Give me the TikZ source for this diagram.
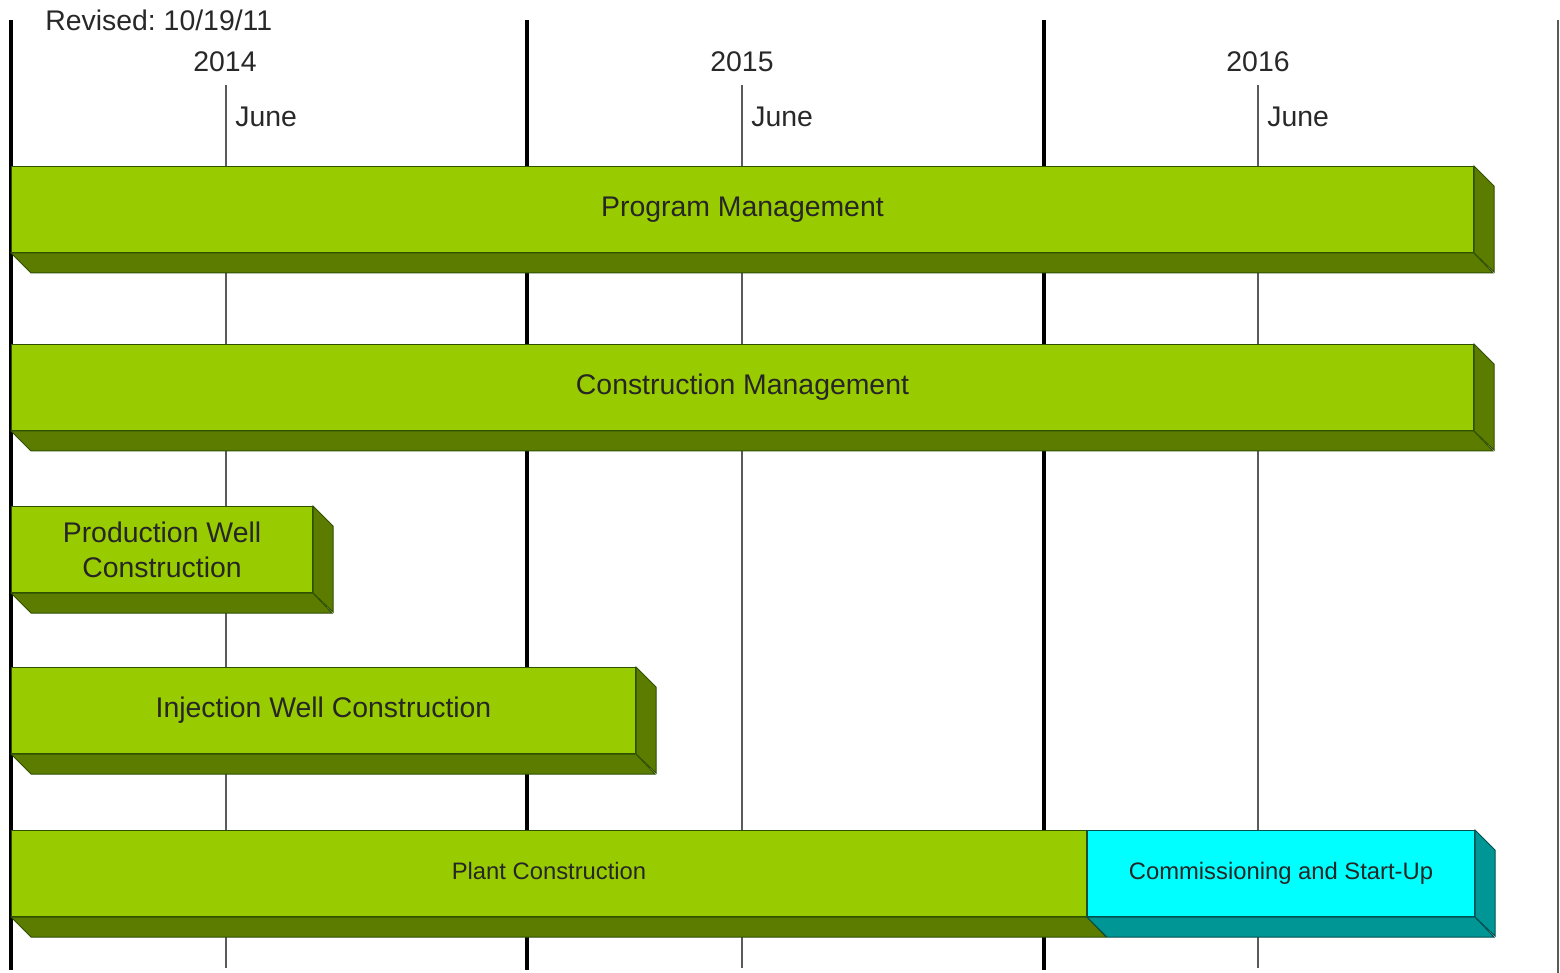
\documentclass[tikz,border=0pt]{standalone}
\usepackage{fontspec}
\setmainfont{Liberation Sans}
\usepackage{xcolor}
\usetikzlibrary{positioning}
\frenchspacing

\definecolor{barfront}{RGB}{153,204,0}
\definecolor{barside}{RGB}{92,124,0}
\definecolor{baredge}{RGB}{46,80,0}
\definecolor{cyanfront}{RGB}{0,255,255}
\definecolor{cyanside}{RGB}{0,150,150}
\definecolor{cyanedge}{RGB}{0,80,80}
\definecolor{headtext}{RGB}{40,40,40}
\definecolor{junegrey}{RGB}{90,90,90}

\begin{document}
\begin{tikzpicture}[x=0.5pt,y=0.5pt,yscale=-1,xscale=1,
  font=\fontsize{14.2}{17.5}\selectfont,
  yearline/.style={line width=2pt,black},
  juneline/.style={line width=0.9pt,junegrey},
  headlbl/.style={text=headtext,inner sep=0pt},
  greenbar/.style={draw=baredge,line width=0.5pt,fill=barfront,inner sep=0pt,anchor=north west,minimum height=43pt,align=center,text=black!85},
  cyanbar/.style={greenbar,draw=cyanedge,fill=cyanfront},
  smalllbl/.style={font=\fontsize{11.9}{14}\selectfont,text height=0.75em,text depth=0.2em},
  greenside/.style={draw=baredge,line width=0.5pt,fill=barside},
  cyanside/.style={draw=cyanedge,line width=0.5pt,fill=cyanside}]
  \useasboundingbox (0,0) rectangle (1560,973);

  % Year lines
  \draw [yearline] (11,20) -- (11,970);
  \draw [yearline] (527,20) -- (527,970);
  \draw [yearline] (1044,20) -- (1044,970);
  \draw [line width=0.9pt,junegrey] (1558,20) -- (1558,973);
  % June lines
  \draw [juneline] (226,85) -- (226,968);
  \draw [juneline] (742,85) -- (742,968);
  \draw [juneline] (1258,85) -- (1258,968);

  % Text Node
  \node [headlbl,anchor=west] (rev) at (45,20) {Revised: 10/19/11};
  \node [headlbl] (y14) at (225,62) {2014};
  \node [headlbl] (y15) at (742,62) {2015};
  \node [headlbl] (y16) at (1258,62) {2016};
  \node [headlbl,anchor=west] (jun14) at (235,117) {June};
  \node [headlbl,anchor=west] (jun15) at (751,117) {June};
  \node [headlbl,anchor=west] (jun16) at (1267,117) {June};

  % Bar: Program Management
  \node [greenbar,minimum width=731pt] (prog) at (11,166) {Program Management};
  \draw [greenside] (prog.south west) -- ++(20,20) -- ++(1462,0) -- (prog.south east) -- cycle;
  \draw [greenside] (prog.north east) -- ++(20,20) -- ++(0,86) -- (prog.south east) -- cycle;

  % Bar: Construction Management
  \node [greenbar,minimum width=731pt] (cons) at (11,344) {Construction Management};
  \draw [greenside] (cons.south west) -- ++(20,20) -- ++(1462,0) -- (cons.south east) -- cycle;
  \draw [greenside] (cons.north east) -- ++(20,20) -- ++(0,86) -- (cons.south east) -- cycle;

  % Bar: Production Well Construction
  \node [greenbar,minimum width=150.5pt] (prod) at (11,506) {Production Well\\Construction};
  \draw [greenside] (prod.south west) -- ++(20,20) -- ++(301,0) -- (prod.south east) -- cycle;
  \draw [greenside] (prod.north east) -- ++(20,20) -- ++(0,86) -- (prod.south east) -- cycle;

  % Bar: Injection Well Construction
  \node [greenbar,minimum width=312pt] (inj) at (11,667) {Injection Well Construction};
  \draw [greenside] (inj.south west) -- ++(20,20) -- ++(624,0) -- (inj.south east) -- cycle;
  \draw [greenside] (inj.north east) -- ++(20,20) -- ++(0,86) -- (inj.south east) -- cycle;

  % Bar: Plant Construction + Commissioning
  \node [greenbar,minimum width=537.5pt,smalllbl] (plant) at (11,830) {Plant Construction};
  \node [cyanbar,minimum width=193.5pt,smalllbl,anchor=north west] (comm) at (plant.north east) {Commissioning and Start-Up};
  \draw [greenside] (plant.south west) -- ++(20,20) -- ++(1075,0) -- (plant.south east) -- cycle;
  \draw [cyanside] (comm.south west) -- ++(20,20) -- ++(387,0) -- (comm.south east) -- cycle;
  \draw [cyanside] (comm.north east) -- ++(20,20) -- ++(0,86) -- (comm.south east) -- cycle;
\end{tikzpicture}
\end{document}
